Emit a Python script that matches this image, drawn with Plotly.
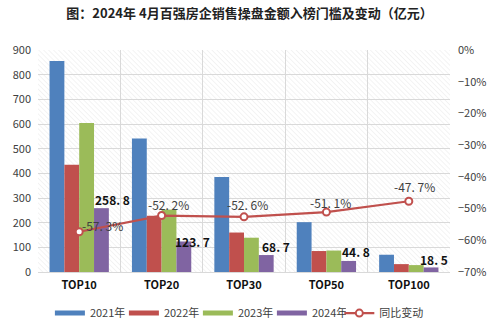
import base64
import plotly.graph_objects as go

# ---- data ----
categories = ["TOP10", "TOP20", "TOP30", "TOP50", "TOP100"]
series_names = ["2021年", "2022年", "2023年", "2024年"]
v2021 = [855, 541, 385, 202, 70]
v2022 = [435, 228, 160, 85, 32]
v2023 = [604, 253, 139, 87, 28]
v2024 = [258.8, 123.7, 68.7, 44.8, 18.5]
yoy_change = [-0.573, -0.522, -0.526, -0.511, -0.477]
yoy_labels = ["-57.3%", "-52.2%", "-52.6%", "-51.1%", "-47.7%"]
line_name = "同比变动"
title_text = "图：2024年 4月百强房企销售操盘金额入榜门槛及变动（亿元）"

# ---- styles ----
colors = ["#4F81BD", "#C0504D", "#9BBB59", "#8064A2"]
line_color = "#C0504D"
bar_label_shift = [(33, 9), (31, 0), (32, 9), (30, 9), (25, 8)]
line_label_shift = [(23, 6), (7, 11), (3, 12), (4, 10), (6, 15)]
font_main = "Noto Sans CJK SC, Liberation Sans, Arial"

fig = go.Figure()
for name, vals, c in zip(series_names, [v2021, v2022, v2023, v2024], colors):
    fig.add_trace(go.Bar(x=categories, y=vals, name=name, marker_color=c,
                         marker_line_width=0, yaxis="y", showlegend=False))
# legend entries drawn as short thick lines (Excel style)
for name, c in zip(series_names, colors):
    fig.add_trace(go.Scatter(x=[None], y=[None], name=name, mode="lines",
                             line=dict(color=c, width=5), legend="legend"))

fig.add_trace(go.Scatter(x=categories, y=yoy_change, name=line_name, yaxis="y2",
                         mode="lines+markers", legend="legend2",
                         line=dict(color=line_color, width=2.2),
                         marker=dict(symbol="circle", size=7, color="white",
                                     line=dict(color=line_color, width=2))))

annotations = []
for cat, val, (dx, dy) in zip(categories, v2024, bar_label_shift):
    annotations.append(dict(x=cat, y=val, xref="x", yref="y", text=f"{val:.1f}".replace(".", ". "),
                            showarrow=False, xshift=dx, yshift=dy,
                            font=dict(size=12, color="#111111", family=font_main, weight="bold")))
for cat, val, lab, (dx, dy) in zip(categories, yoy_change, yoy_labels, line_label_shift):
    annotations.append(dict(x=cat, y=val, xref="x", yref="y2", text=lab.replace(".", ". "),
                            showarrow=False, xshift=dx, yshift=dy,
                            font=dict(size=12, color="#404040", family=font_main)))

# hatched plot background
svg = ('<svg xmlns="http://www.w3.org/2000/svg" width="412" height="222">'
       '<defs><pattern id="p" width="3.5" height="3.5" patternUnits="userSpaceOnUse" '
       'patternTransform="rotate(-45)"><line x1="0" y1="0" x2="0" y2="3.5" '
       'stroke="#e8e8e8" stroke-width="1"/></pattern></defs>'
       '<rect width="412" height="222" fill="url(#p)"/></svg>')
src = "data:image/svg+xml;base64," + base64.b64encode(svg.encode()).decode()

legend_common = dict(orientation="h", yref="container", y=0.057, yanchor="middle",
                     xref="container", xanchor="left",
                     font=dict(size=11, color="#404040"), itemwidth=30,
                     bgcolor="rgba(0,0,0,0)")

fig.update_layout(
    width=499, height=332,
    margin=dict(l=38, r=49, t=50, b=60),
    paper_bgcolor="white", plot_bgcolor="white",
    barmode="group", bargap=0.28, bargroupgap=0,
    title=dict(text=title_text, x=0.5, xanchor="center", y=0.958, yanchor="middle",
               font=dict(size=13, color="#222222", family=font_main, weight="bold")),
    font=dict(family=font_main, size=11, color="#595959"),
    xaxis=dict(type="category", tickson="boundaries", showgrid=True, gridcolor="#d9d9d9",
               showline=True, linecolor="#d9d9d9", ticks="", ticklabelstandoff=3,
               automargin=False,
               tickfont=dict(size=11, color="#111111", weight="bold")),
    yaxis=dict(range=[0, 900], dtick=100, showgrid=True, gridcolor="#d9d9d9",
               zeroline=False, ticks="", ticklabelstandoff=6, automargin=False,
               tickfont=dict(size=11, color="#404040")),
    yaxis2=dict(range=[-0.7, 0], dtick=0.1, tickformat=".0%", overlaying="y", side="right",
                showgrid=False, zeroline=False, ticks="", ticklabelstandoff=7,
                automargin=False, tickfont=dict(size=11, color="#404040")),
    legend=dict(**legend_common, x=0.10, traceorder="normal",
                entrywidth=29, entrywidthmode="pixels"),
    legend2=dict(**legend_common, x=0.68),
    annotations=annotations,
    images=[dict(source=src, xref="paper", yref="paper", x=0, y=1, sizex=1, sizey=1,
                 xanchor="left", yanchor="top", sizing="stretch", layer="below")],
)

fig.write_html("out.html")
